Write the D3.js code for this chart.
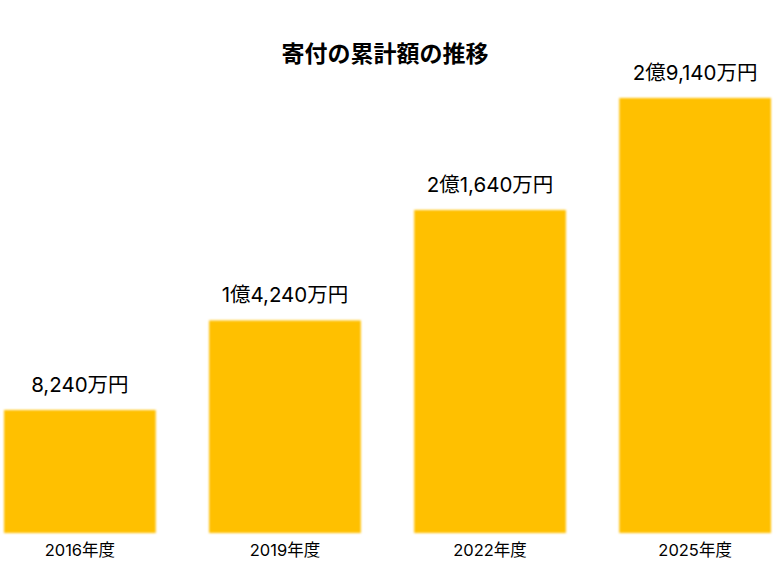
<!DOCTYPE html>
<html>
<head>
<meta charset="utf-8">
<script src="https://cdn.jsdelivr.net/npm/d3@7"></script>
<style>
  body { margin: 0; background: #fff; }
  text { font-family: Inter, "Noto Sans CJK JP", sans-serif; fill: #000; }
</style>
</head>
<body>
<div id="chart"></div>
<script>
// data (万円)
const years = ["2016年度", "2019年度", "2022年度", "2025年度"];
const totals = [8240, 14240, 21640, 29140];
const valueLabels = ["8,240万円", "1億4,240万円", "2億1,640万円", "2億9,140万円"];

const width = 780, height = 570;
const baseY = 533;

const svg = d3.select("#chart")
    .append("svg")
    .attr("width", width)
    .attr("height", height);

// soft edge on the bars
svg.append("defs").append("filter")
    .attr("id", "soft")
    .append("feGaussianBlur")
    .attr("stdDeviation", 0.8);

const x = d3.scaleBand()
    .domain(years)
    .range([4, 771])
    .paddingInner(0.26)
    .paddingOuter(0);

const y = d3.scaleLinear()
    .domain([0, 29140])
    .range([baseY, 98]);

svg.append("text")
    .attr("x", 385)
    .attr("y", 62)
    .attr("text-anchor", "middle")
    .style("font-size", "23px")
    .style("font-weight", "bold")
    .text("寄付の累計額の推移");

const data = years.map((d, i) => ({ year: d, value: totals[i], label: valueLabels[i] }));

svg.selectAll("rect.bar")
    .data(data)
    .enter()
    .append("rect")
    .attr("class", "bar")
    .attr("x", d => x(d.year))
    .attr("y", d => y(d.value))
    .attr("width", x.bandwidth())
    .attr("height", d => baseY - y(d.value))
    .attr("fill", "#FFC000")
    .attr("filter", "url(#soft)");

svg.selectAll("text.value")
    .data(data)
    .enter()
    .append("text")
    .attr("class", "value")
    .attr("x", d => x(d.year) + x.bandwidth() / 2)
    .attr("y", d => y(d.value) - 18)
    .attr("text-anchor", "middle")
    .style("font-size", "20.5px")
    .text(d => d.label);

// category axis, no line or ticks
const axis = svg.append("g")
    .attr("transform", `translate(0,${baseY})`)
    .call(d3.axisBottom(x).tickSize(0).tickPadding(11));
axis.select(".domain").remove();
axis.selectAll("text")
    .style("font-size", "16.5px")
    .style("font-family", 'Inter, "Noto Sans CJK JP", sans-serif')
    .attr("fill", "#000");
</script>
</body>
</html>
